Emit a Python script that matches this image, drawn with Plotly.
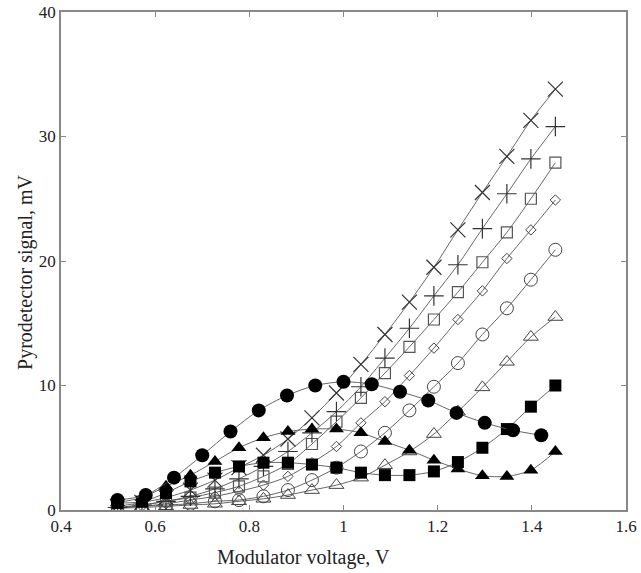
import plotly.graph_objects as go

# x grids (V)
x_grid = [0.52, 0.572, 0.623, 0.675, 0.727, 0.778, 0.83, 0.882, 0.933, 0.985,
          1.037, 1.088, 1.14, 1.192, 1.243, 1.295, 1.347, 1.398, 1.45]
x_circ = [0.52, 0.58, 0.64, 0.70, 0.76, 0.82, 0.88, 0.94, 1.00, 1.06,
          1.12, 1.18, 1.24, 1.30, 1.36, 1.42]

# series values (mV)
y_x      = [0.3, 0.6, 1.0, 1.6, 2.4, 3.4, 4.4, 5.7, 7.4, 9.4, 11.7, 14.1, 16.7, 19.5, 22.5, 25.5, 28.4, 31.3, 33.8]
y_plus   = [0.2, 0.4, 0.7, 1.1, 1.7, 2.5, 3.5, 4.7, 6.2, 7.9, 9.9, 12.2, 14.6, 17.2, 19.7, 22.6, 25.4, 28.2, 30.8]
y_sqo    = [0.2, 0.4, 0.7, 1.0, 1.4, 1.9, 2.7, 3.7, 5.3, 7.1, 9.0, 11.0, 13.1, 15.3, 17.5, 19.9, 22.3, 25.0, 27.9]
y_dia    = [0.2, 0.3, 0.5, 0.8, 1.1, 1.5, 2.0, 2.7, 3.8, 5.1, 7.0, 8.7, 10.8, 13.0, 15.3, 17.6, 20.2, 22.5, 24.9]
y_circo  = [0.2, 0.3, 0.4, 0.5, 0.7, 0.8, 1.1, 1.6, 2.4, 3.4, 4.7, 6.2, 8.0, 9.9, 11.8, 14.1, 16.2, 18.5, 20.9]
y_trio   = [0.15, 0.2, 0.3, 0.4, 0.5, 0.7, 0.9, 1.2, 1.6, 2.0, 2.6, 3.6, 4.7, 6.1, 7.9, 9.85, 11.9, 13.9, 15.5]
y_sqf    = [0.56, 0.67, 1.37, 2.3, 3.0, 3.5, 3.8, 3.8, 3.65, 3.4, 3.0, 2.8, 2.8, 3.1, 3.85, 5.0, 6.5, 8.3, 10.0]
y_trif   = [0.6, 1.0, 1.9, 2.8, 3.9, 5.0, 5.8, 6.3, 6.5, 6.5, 6.2, 5.5, 4.8, 4.0, 3.3, 2.75, 2.7, 3.2, 4.7]
y_circf  = [0.8, 1.2, 2.6, 4.4, 6.3, 8.0, 9.2, 10.0, 10.3, 10.1, 9.5, 8.8, 7.8, 7.0, 6.4, 6.0]

x_ticks = [0.4, 0.6, 0.8, 1.0, 1.2, 1.4, 1.6]
x_labels = ["0.4", "0.6", "0.8", "1", "1.2", "1.4", "1.6"]
y_ticks = [0, 10, 20, 30, 40]

LINE = "#555555"
series = [
    (x_grid, y_circo, "circle-open", 13, "#444444", 1.0),
    (x_grid, y_trio, "triangle-up-open", 13, "#444444", 1.0),
    (x_grid, y_dia, "diamond-open", 8, "#444444", 1.0),
    (x_grid, y_sqo, "square-open", 11, "#555555", 1.2),
    (x_grid, y_plus, "cross-thin-open", 14, "#333333", 1.2),
    (x_grid, y_x, "x-thin-open", 15, "#333333", 1.2),
    (x_grid, y_sqf, "square", 12, "#000000", 0),
    (x_grid, y_trif, "triangle-up", 13, "#000000", 0),
    (x_circ, y_circf, "circle", 14, "#000000", 0),
]

fig = go.Figure()
for xs, ys, sym, size, col, lw in series:
    fig.add_trace(go.Scatter(
        x=xs, y=ys, mode="lines+markers",
        line=dict(color=LINE, width=0.9, shape="spline", smoothing=0.8),
        marker=dict(symbol=sym, size=size, color=col,
                    line=dict(color=col, width=lw)),
        showlegend=False,
    ))

font = "Liberation Serif, Times New Roman, serif"
axis_common = dict(
    showline=True, linecolor="#888888", linewidth=1.5, mirror="ticks",
    ticks="inside", ticklen=5, tickcolor="#888888", tickwidth=1,
    showgrid=False, zeroline=False, automargin=False,
    ticklabeloverflow="allow",
    tickfont=dict(family=font, size=17, color="#222222"),
)
fig.update_xaxes(range=[0.4, 1.6], tickvals=x_ticks, ticktext=x_labels, **axis_common)
fig.update_yaxes(range=[0, 40], tickvals=y_ticks, **axis_common)

fig.update_layout(
    width=641, height=573,
    margin=dict(l=61, r=15, t=12, b=63, autoexpand=False),
    paper_bgcolor="white", plot_bgcolor="white",
    annotations=[
        dict(text="Modulator voltage, V", xref="paper", yref="paper",
             x=0.43, y=-0.096, showarrow=False, xanchor="center", yanchor="middle",
             font=dict(family=font, size=20, color="#222222")),
        dict(text="Pyrodetector signal, mV", xref="paper", yref="paper",
             x=-0.062, y=0.478, showarrow=False, textangle=-90,
             xanchor="center", yanchor="middle",
             font=dict(family=font, size=20, color="#222222")),
    ],
)

fig.write_html("out.html")
